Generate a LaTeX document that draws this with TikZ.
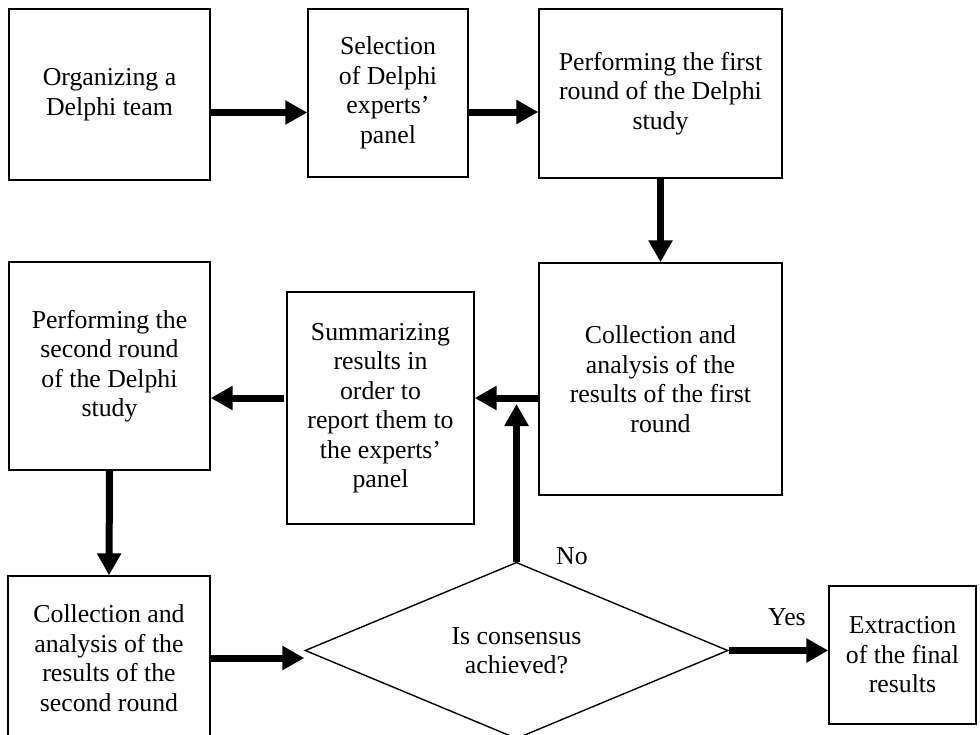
\documentclass[tikz,border=0pt]{standalone}
\usepackage{fontspec}
\setmainfont{Liberation Serif}
\usetikzlibrary{arrows.meta,shapes.geometric}

\tikzstyle{stage}=[draw=black, line width=1.4pt, inner sep=0pt, align=center, font=\fontsize{25.8}{29.5}\selectfont]
\tikzstyle{test}=[stage, diamond]
\tikzstyle{flow}=[-{Triangle[length=22pt,width=23pt]}, line width=7pt]
\tikzstyle{answer}=[font=\fontsize{25.8}{29.5}\selectfont]

\begin{document}
\begin{tikzpicture}[x=1pt, y=-1pt]
	\useasboundingbox[fill=white] (0,0) rectangle (980,734);
	\clip (0,0) rectangle (980,734);

	% Top row
	\node[stage, minimum width=201pt, minimum height=171pt] (team) at (109.5,94.5) {Organizing a\\Delphi team};
	\node[stage, minimum width=160pt, minimum height=168pt] (panel) at (388,93) {Selection\\of Delphi\\experts’\\panel};
	\node[stage, minimum width=243pt, minimum height=169pt] (first) at (660.5,93.5) {Performing the first\\round of the Delphi\\study};

	% Middle row
	\node[stage, minimum width=243pt, minimum height=232pt] (collA) at (660.5,379) {Collection and\\analysis of the\\results of the first\\round};
	\node[stage, minimum width=187pt, minimum height=232pt] (summary) at (380.5,408) {Summarizing\\results in\\order to\\report them to\\the experts’\\panel};
	\node[stage, minimum width=201pt, minimum height=208pt] (second) at (109.5,366) {Performing the\\second round\\of the Delphi\\study};

	% Bottom row
	\node[stage, minimum width=202pt, minimum height=164pt] (collB) at (109,658) {Collection and\\analysis of the\\results of the\\second round};
	\node[test, minimum width=423pt, minimum height=163pt] (consensus) at (516.5,650.5) {Is consensus\\achieved?};
	\node[stage, minimum width=147pt, minimum height=138pt] (final) at (902.5,655) {Extraction\\of the final\\results};

	\node[answer] (no) at (572,556) {No};
	\node[answer] (yes) at (787,617) {Yes};

	% Arrows
	\coordinate (t1) at ([yshift=-18pt]team.east);
	\draw[flow] (t1) -- (t1 -| panel.west);
	\coordinate (t2) at ([yshift=-19pt]panel.east);
	\draw[flow] (t2) -- (t2 -| first.west);
	\draw[flow] (first.south) -- (collA.north);

	\coordinate (m1) at ([yshift=-19pt]collA.west);
	\draw[flow] (m1) -- (m1 -| summary.east);
	\draw[flow] ([xshift=-2pt]summary.west |- m1) -- (m1 -| second.east);
	\coordinate (m2) at (consensus.north |- m1);
	\draw[flow] (consensus.north) -- ([yshift=-6pt]m2);

	\draw[flow] (second.south) -- (collB.north);
	\draw[flow] (collB.east) -- (collB.east -| consensus.west);
	\draw[flow] (consensus.east) -- (consensus.east -| final.west);
\end{tikzpicture}
\end{document}
